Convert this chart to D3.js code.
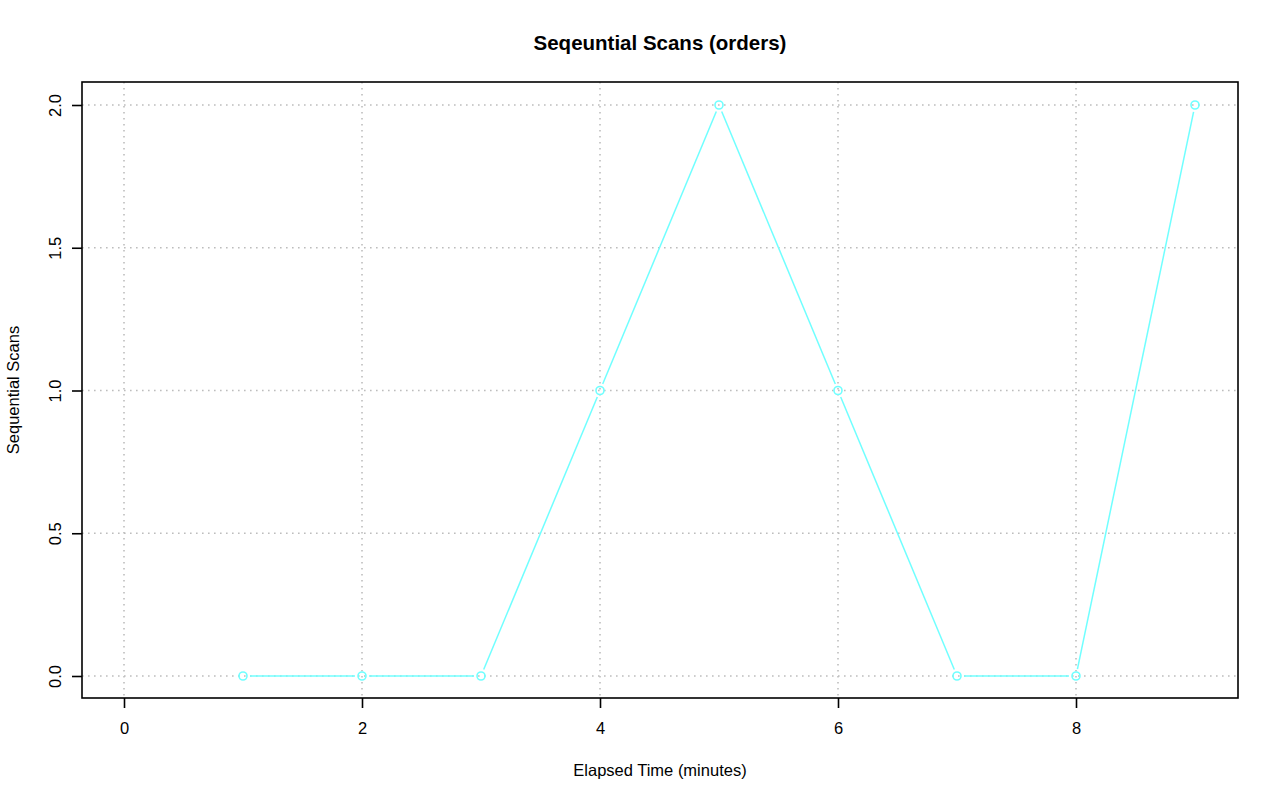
<!DOCTYPE html>
<html>
<head>
<meta charset="utf-8">
<script src="https://cdn.jsdelivr.net/npm/d3@7"></script>
<style>
  body { margin: 0; background: #fff; }
  svg { font-family: "Liberation Sans", Arial, sans-serif; }
</style>
</head>
<body>
<svg id="chart" width="1280" height="801"></svg>
<script>
// minutes elapsed and the scan count at each minute
const minutes = [1, 2, 3, 4, 5, 6, 7, 8, 9];
const scans = [0, 0, 0, 1, 2, 1, 0, 0, 2];
const xTicks = [0, 2, 4, 6, 8];
const yTicks = [0, 0.5, 1, 1.5, 2];

const box = { left: 82, right: 1238, top: 82, bottom: 698 };
const lineColor = "#70ffff";
const fontFam = "Liberation Sans, Arial, sans-serif";

const svg = d3.select("#chart");

const x = d3.scaleLinear().domain([0, 9]).range([124, 1195]);
const y = d3.scaleLinear().domain([0, 2]).range([676, 105]);

// grid
svg.append("g").selectAll("line.gx")
  .data(xTicks).enter().append("line")
  .attr("x1", d => x(d)).attr("x2", d => x(d))
  .attr("y1", box.top).attr("y2", box.bottom)
  .attr("stroke", "#bdbdbd").attr("stroke-width", 1.6).attr("stroke-dasharray", "1.6,4.4");

svg.append("g").selectAll("line.gy")
  .data(yTicks).enter().append("line")
  .attr("y1", d => y(d)).attr("y2", d => y(d))
  .attr("x1", box.left).attr("x2", box.right)
  .attr("stroke", "#bdbdbd").attr("stroke-width", 1.6).attr("stroke-dasharray", "1.6,4.4");

// line segments with gaps around the points (type "b")
const pts = minutes.map((m, i) => [x(m), y(scans[i])]);
const gap = 7;
const segs = [];
for (let i = 0; i < pts.length - 1; i++) {
  const [x1, y1] = pts[i], [x2, y2] = pts[i + 1];
  const len = Math.hypot(x2 - x1, y2 - y1);
  const ux = (x2 - x1) / len, uy = (y2 - y1) / len;
  segs.push([x1 + ux * gap, y1 + uy * gap, x2 - ux * gap, y2 - uy * gap]);
}
svg.append("g").selectAll("line.seg")
  .data(segs).enter().append("line")
  .attr("x1", d => d[0]).attr("y1", d => d[1])
  .attr("x2", d => d[2]).attr("y2", d => d[3])
  .attr("stroke", lineColor).attr("stroke-width", 1.5);

svg.append("g").selectAll("circle")
  .data(pts).enter().append("circle")
  .attr("cx", d => d[0]).attr("cy", d => d[1])
  .attr("r", 4)
  .attr("fill", "none").attr("stroke", lineColor).attr("stroke-width", 1.6);

// box
svg.append("rect")
  .attr("x", box.left).attr("y", box.top)
  .attr("width", box.right - box.left).attr("height", box.bottom - box.top)
  .attr("fill", "none").attr("stroke", "#000").attr("stroke-width", 1.6);

// axes
const xAxis = d3.axisBottom(x).tickValues(xTicks).tickSize(10).tickPadding(14)
  .tickFormat(d3.format("d"));
const gx = svg.append("g").attr("transform", `translate(0,${box.bottom})`).call(xAxis);
gx.select(".domain").remove();
gx.selectAll("line").attr("stroke-width", 1.6);
gx.selectAll("text").attr("font-size", 16.5).attr("fill", "#000")
  .attr("font-family", fontFam);

const yAxis = d3.axisLeft(y).tickValues(yTicks).tickSize(10).tickFormat(d3.format(".1f"));
const gy = svg.append("g").attr("transform", `translate(${box.left},0)`).call(yAxis);
gy.select(".domain").remove();
gy.selectAll("line").attr("stroke-width", 1.6);
gy.selectAll("text")
  .attr("font-size", 16.5).attr("fill", "#000")
  .attr("font-family", fontFam)
  .attr("x", null).attr("dy", null)
  .attr("text-anchor", "middle")
  .attr("transform", "translate(-21,0) rotate(-90)");

// titles
svg.append("text")
  .attr("x", 660).attr("y", 50).attr("text-anchor", "middle")
  .attr("font-size", 20.5).attr("font-weight", "bold")
  .text("Seqeuntial Scans (orders)");

svg.append("text")
  .attr("x", 660).attr("y", 776).attr("text-anchor", "middle")
  .attr("font-size", 16.5)
  .text("Elapsed Time (minutes)");

svg.append("text")
  .attr("transform", "translate(19,390) rotate(-90)")
  .attr("text-anchor", "middle")
  .attr("font-size", 16.5)
  .text("Sequential Scans");
</script>
</body>
</html>
